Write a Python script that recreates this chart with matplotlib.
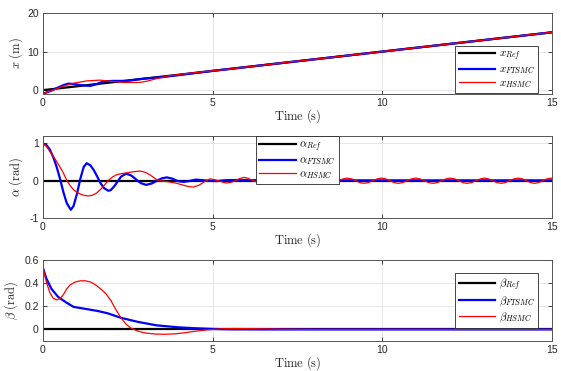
import matplotlib
matplotlib.use("Agg")
import matplotlib.pyplot as plt
from matplotlib.ticker import FormatStrFormatter

# position x (m)
t_x_ref = [0, 15]
x_ref = [0, 15]
t_x_ftsmc = [0, 0.2, 0.4, 0.6, 0.75, 0.9, 1.1, 1.39, 1.6, 1.78, 2.1, 2.47, 2.8, 3.1, 3.45, 4.0, 5.0, 15]
x_ftsmc = [-0.9, -0.3, 0.5, 1.3, 1.7, 1.6, 1.3, 1.1, 1.6, 2.3, 2.4, 2.4, 2.8, 3.1, 3.3, 3.9, 5.0, 15]
t_x_hsmc = [0, 0.3, 0.6, 0.9, 1.29, 1.68, 2.0, 2.37, 2.86, 3.1, 3.35, 3.7, 4.04, 4.5, 5.0, 15]
x_hsmc = [-0.9, 0.0, 1.04, 1.8, 2.4, 2.6, 2.3, 2.0, 2.0, 2.4, 3.0, 3.7, 4.1, 4.55, 5.0, 15]

# pitch angle alpha (rad)
t_a_ref = [0, 15]
a_ref = [0, 0]
t_a_ftsmc = [0.0, 0.1, 0.2, 0.3, 0.4, 0.5, 0.6, 0.7, 0.82, 0.9, 1.0, 1.1, 1.2, 1.29,
             1.4, 1.5, 1.6, 1.7, 1.8, 1.93, 2.0, 2.1, 2.2, 2.3, 2.45, 2.6, 2.7, 2.8,
             2.9, 3.04, 3.2, 3.3, 3.4, 3.5, 3.65, 3.8, 3.9, 4.0, 4.15, 4.3, 4.5, 4.7,
             4.9, 5.1, 5.4, 5.8, 6.5, 15]
a_ftsmc = [1.00, 0.96, 0.84, 0.64, 0.38, 0.06, -0.30, -0.60, -0.78, -0.68, -0.36, 0.05,
           0.37, 0.47, 0.41, 0.28, 0.11, -0.07, -0.20, -0.27, -0.25, -0.15, -0.02, 0.11,
           0.19, 0.14, 0.07, -0.01, -0.07, -0.11, -0.076, -0.03, 0.02, 0.063, 0.09, 0.06,
           0.02, -0.015, -0.03, -0.01, 0.03, 0.015, 0.0, -0.01, 0.015, 0.02, 0.01, 0.01]
t_a_hsmc = [0.0, 0.1, 0.2, 0.3, 0.4, 0.5, 0.6, 0.7, 0.8, 0.9, 1.0, 1.1, 1.2, 1.34, 1.45,
            1.58, 1.7, 1.78, 1.93, 2.05, 2.17, 2.3, 2.47, 2.65, 2.86, 3.0, 3.15, 3.35,
            3.5, 3.7, 3.9, 4.1, 4.3, 4.43, 4.6, 4.75, 4.92, 5.05, 5.17, 5.3, 5.42, 5.55,
            5.67, 5.8, 5.93, 6.06, 6.19, 6.32, 6.45, 6.58, 6.7, 6.82, 6.95, 7.08, 7.21,
            7.34, 7.47, 7.6, 7.72, 7.85, 7.97, 8.1, 8.22, 8.35, 8.47, 8.6, 8.72, 8.85,
            8.97, 9.1, 9.22, 9.34, 9.46, 9.59, 9.72, 9.85, 9.97, 10.1, 10.22, 10.35,
            10.47, 10.6, 10.73, 10.86, 10.98, 11.11, 11.24, 11.37, 11.49, 11.62, 11.75,
            11.88, 12.0, 12.13, 12.25, 12.38, 12.5, 12.63, 12.76, 12.89, 13.01, 13.13,
            13.25, 13.38, 13.5, 13.62, 13.75, 13.88, 14.0, 14.13, 14.25, 14.37, 14.49,
            14.61, 14.73, 14.85, 14.97, 15.0]
a_hsmc = [1.0, 0.92, 0.79, 0.66, 0.52, 0.37, 0.21, 0.01, -0.13, -0.24, -0.31, -0.36,
          -0.39, -0.41, -0.39, -0.33, -0.23, -0.15, 0.01, 0.10, 0.16, 0.19, 0.21, 0.24,
          0.26, 0.23, 0.16, 0.03, -0.01, -0.03, -0.06, -0.11, -0.16, -0.17, -0.12, -0.03,
          0.05, 0.03, 0.0, -0.04, -0.06, -0.04, 0.0, 0.06, 0.09, 0.06, 0.0, -0.04, -0.06,
          -0.04, 0.0, 0.05, 0.07, 0.05, 0.0, -0.05, -0.065, -0.05, 0.0, 0.05, 0.07, 0.05,
          0.0, -0.05, -0.07, -0.05, 0.0, 0.05, 0.07, 0.05, 0.0, -0.05, -0.07, -0.05, 0.0,
          0.05, 0.07, 0.05, 0.0, -0.05, -0.07, -0.05, 0.0, 0.05, 0.07, 0.05, 0.0, -0.05,
          -0.07, -0.05, 0.0, 0.05, 0.07, 0.05, 0.0, -0.05, -0.07, -0.05, 0.0, 0.05, 0.07,
          0.05, 0.0, -0.05, -0.07, -0.05, 0.0, 0.05, 0.07, 0.05, 0.0, -0.05, -0.07, -0.05,
          0.0, 0.05, 0.07, 0.06]

# yaw angle beta (rad)
t_b_ref = [0, 15]
b_ref = [0, 0]
t_b_ftsmc = [0, 0.1, 0.25, 0.45, 0.7, 0.9, 1.2, 1.6, 1.9, 2.3, 2.8, 3.35, 4.0, 4.5, 5.0, 5.5, 6.5, 15]
b_ftsmc = [0.53, 0.44, 0.35, 0.28, 0.23, 0.195, 0.18, 0.16, 0.14, 0.10, 0.065, 0.035,
           0.018, 0.01, 0.004, 0.001, 0.0, 0.0]
t_b_hsmc = [0, 0.1, 0.2, 0.3, 0.4, 0.5, 0.6, 0.7, 0.8, 0.95, 1.1, 1.25, 1.4, 1.55, 1.7,
            1.85, 2.0, 2.15, 2.3, 2.45, 2.6, 2.8, 3.0, 3.3, 3.6, 3.9, 4.2, 4.5, 4.8, 5.2,
            5.6, 6.2, 7.0, 8.0, 15]
b_hsmc = [0.53, 0.41, 0.32, 0.27, 0.255, 0.265, 0.30, 0.35, 0.385, 0.41, 0.42, 0.42,
          0.41, 0.385, 0.35, 0.31, 0.25, 0.17, 0.10, 0.045, 0.01, -0.015, -0.03, -0.04,
          -0.042, -0.038, -0.028, -0.015, -0.005, 0.004, 0.008, 0.006, 0.002, 0.0, 0.0]

plt.rcParams['mathtext.fontset'] = 'cm'
plt.rcParams['font.family'] = ['Liberation Sans', 'DejaVu Sans']

fig = plt.figure(figsize=(5.61, 3.71), dpi=100)
boxes = [
    [0.0766, 0.7466, 0.9073, 0.2183],
    [0.0766, 0.4124, 0.9073, 0.2210],
    [0.0766, 0.0809, 0.9073, 0.2183],
]

panels = [
    dict(ref=(t_x_ref, x_ref), ft=(t_x_ftsmc, x_ftsmc), hs=(t_x_hsmc, x_hsmc),
         sym='x', ylabel=r'$x\ \mathrm{(m)}$', ylim=(-1, 20), yticks=[0, 10, 20],
         loc='lower right', anchor=(0.9725, 0.01), labx=-0.036),
    dict(ref=(t_a_ref, a_ref), ft=(t_a_ftsmc, a_ftsmc), hs=(t_a_hsmc, a_hsmc),
         sym=r'\alpha', ylabel=r'$\alpha\ \mathrm{(rad)}$', ylim=(-1, 1.2), yticks=[-1, 0, 1],
         loc='upper center', anchor=(0.5, 1.0), labx=-0.036),
    dict(ref=(t_b_ref, b_ref), ft=(t_b_ftsmc, b_ftsmc), hs=(t_b_hsmc, b_hsmc),
         sym=r'\beta', ylabel=r'$\beta\ \mathrm{(rad)}$', ylim=(-0.1, 0.6),
         yticks=[0, 0.2, 0.4, 0.6], loc='center right', anchor=(0.9725, 0.5), labx=-0.046),
]

for box, p in zip(boxes, panels):
    ax = fig.add_axes(box)
    ax.plot(*p['ref'], color='black', lw=1.6, label=r'$%s_{Ref}$' % p['sym'])
    ax.plot(*p['ft'], color='#0000ff', lw=1.6, label=r'$%s_{FTSMC}$' % p['sym'])
    ax.plot(*p['hs'], color='#ff0000', lw=0.9, label=r'$%s_{HSMC}$' % p['sym'])

    ax.set_xlim(0, 15)
    ax.set_xticks([0, 5, 10, 15])
    ax.set_ylim(*p['ylim'])
    ax.set_yticks(p['yticks'])
    ax.yaxis.set_major_formatter(FormatStrFormatter('%g'))
    ax.grid(True, color='#e3e3e3', lw=0.6)
    ax.set_axisbelow(True)
    ax.tick_params(direction='in', length=3, width=0.6, top=True, right=True,
                   labelsize=7.5, colors='#262626', pad=3)
    for s in ax.spines.values():
        s.set_color('#555555')
        s.set_linewidth(0.7)

    ax.set_xlabel(r'$\mathrm{Time\ (s)}$', fontsize=9, color='#262626', labelpad=-1)
    ax.set_ylabel(p['ylabel'], fontsize=9, color='#262626')
    ax.yaxis.set_label_coords(p['labx'], 0.5)

    leg = ax.legend(loc=p['loc'], bbox_to_anchor=p['anchor'], borderaxespad=0,
                    fontsize=8, fancybox=False, framealpha=1, edgecolor='#262626',
                    handlelength=3.3, handletextpad=0.3, labelspacing=0.15,
                    borderpad=0.3)
    leg.get_frame().set_linewidth(0.6)

fig.savefig('out.png', dpi=100)
